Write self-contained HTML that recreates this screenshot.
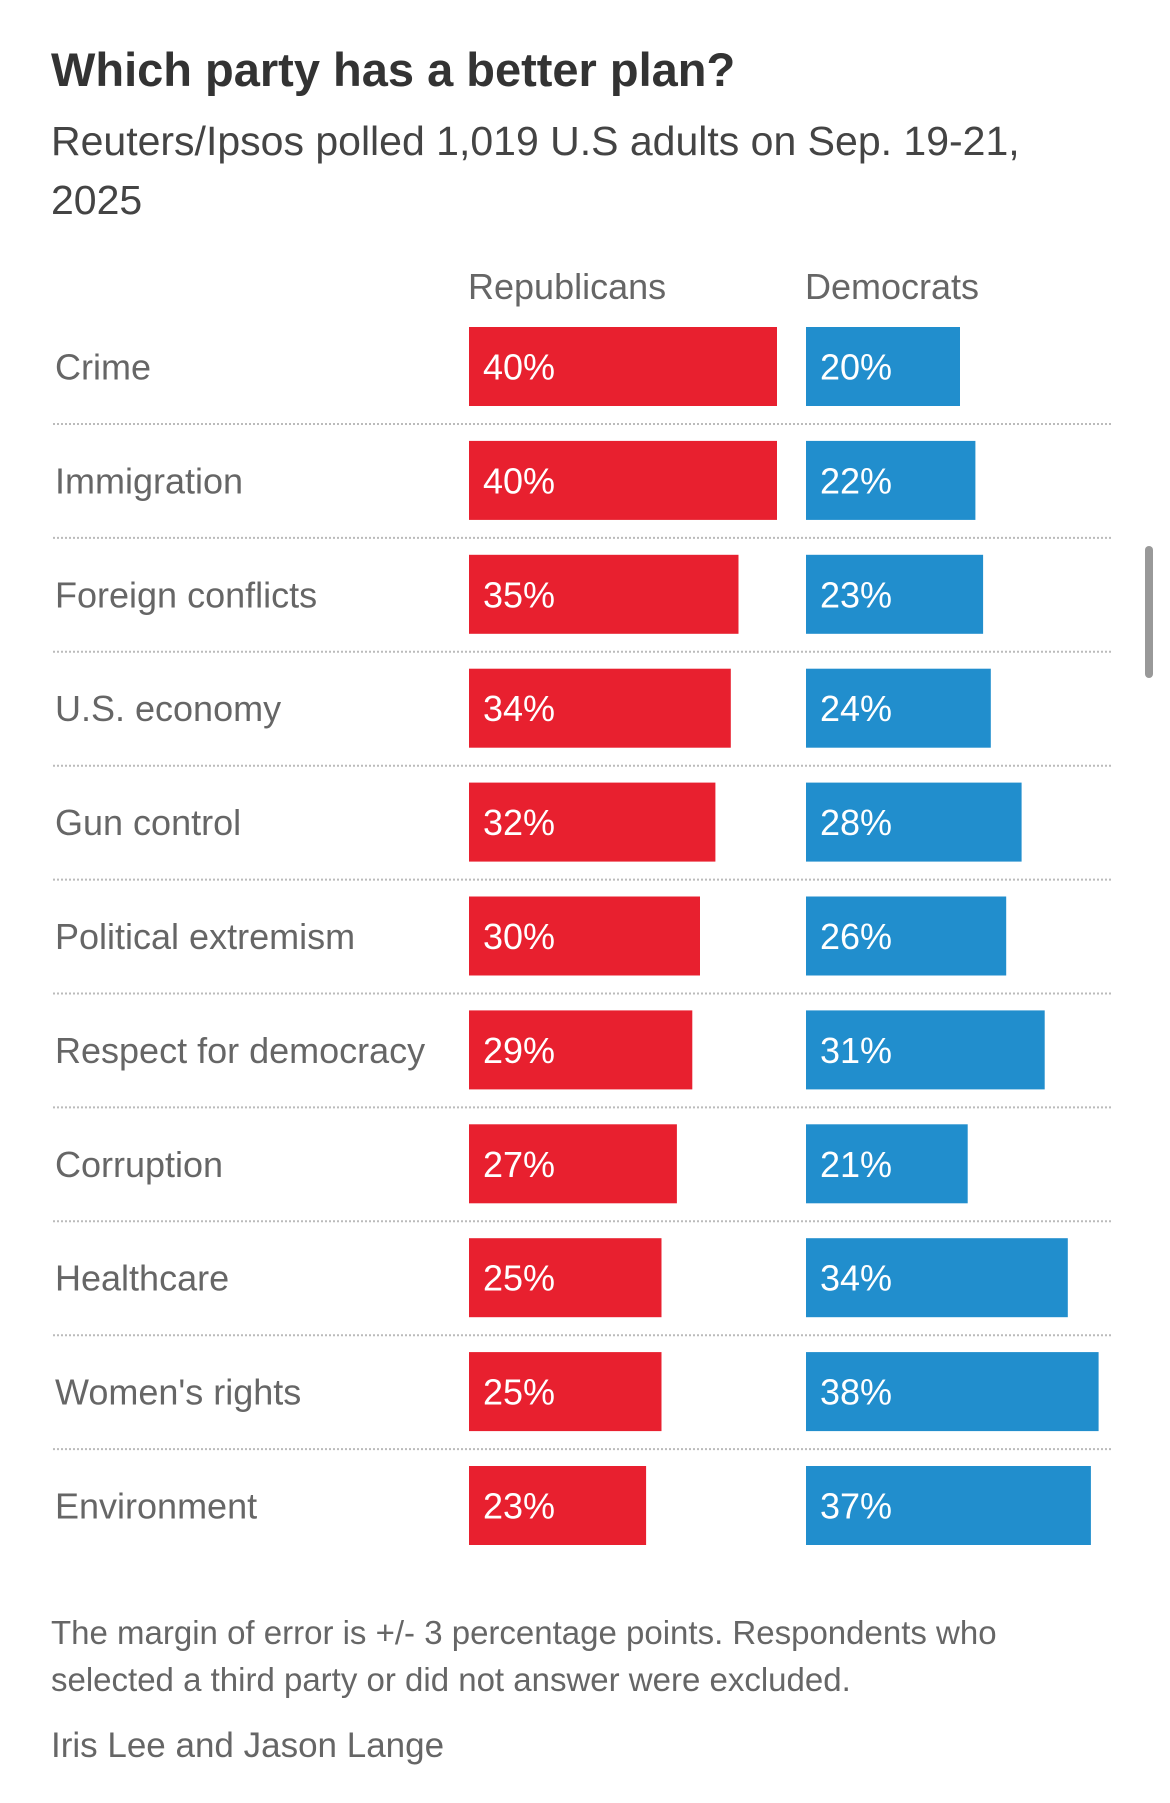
<!DOCTYPE html>
<html><head><meta charset="utf-8"><style>
body{margin:0;width:1170px;height:1803px;background:#fff;font-family:"Liberation Sans",sans-serif;position:relative;overflow:hidden;color:#555}
.t{position:absolute;white-space:nowrap}
</style></head><body>
<div class="t" style="left:51px;top:42px;font-size:47px;font-weight:bold;color:#333">Which party has a better plan?</div>
<div class="t" style="left:51px;top:112px;font-size:41px;line-height:59px;color:#444">Reuters/Ipsos polled 1,019 U.S adults on Sep. 19-21,<br>2025</div>
<div class="t" style="left:468px;top:266px;font-size:36px;color:#666">Republicans</div>
<div class="t" style="left:805px;top:266px;font-size:36px;color:#666">Democrats</div>
<svg id="chart" width="1170" height="1600" style="position:absolute;left:0;top:0"></svg>
<div class="t" style="left:51px;top:1609px;font-size:33px;line-height:47px;color:#666">The margin of error is +/- 3 percentage points. Respondents who<br>selected a third party or did not answer were excluded.</div>
<div class="t" style="left:51px;top:1726px;font-size:35px;color:#666">Iris Lee and Jason Lange</div>
<div style="position:absolute;left:1145px;top:546px;width:8px;height:132px;border-radius:4px;background:#999"></div>
<script>
const categories=["Crime","Immigration","Foreign conflicts","U.S. economy","Gun control","Political extremism","Respect for democracy","Corruption","Healthcare","Women's rights","Environment"];
const repValues=[40,40,35,34,32,30,29,27,25,25,23];
const demValues=[20,22,23,24,28,26,31,21,34,38,37];
const svg=document.getElementById('chart');
const NS='http://www.w3.org/2000/svg';
const pxPer=7.7, repX=469, demX=806, top0=327, pitch=113.9, barH=79;
function xLen(v){return v*pxPer;}
function yRow(i){return top0+i*pitch;}
function mk(tag,attrs){const e=document.createElementNS(NS,tag);for(const k in attrs)e.setAttribute(k,attrs[k]);svg.appendChild(e);return e;}
categories.forEach((c,i)=>{
  const y=yRow(i);
  const lab=mk('text',{x:55,y:y+barH/2+13,'font-size':36,fill:'#666'});
  
  
  lab.textContent=c;
  const r=mk('rect',{x:repX,y:y,width:xLen(repValues[i]),height:barH,fill:'#e8202f'});
  
  
  const rt=mk('text',{x:repX+14,y:y+barH/2+13,'font-size':36,fill:'#fff'});
  
  
  rt.textContent=repValues[i]+'%';
  const d=mk('rect',{x:demX,y:y,width:xLen(demValues[i]),height:barH,fill:'#218ecd'});
  
  
  const dt=mk('text',{x:demX+14,y:y+barH/2+13,'font-size':36,fill:'#fff'});
  
  
  dt.textContent=demValues[i]+'%';
  if(i<categories.length-1){
    const l=mk('line',{x1:53,x2:1112,y1:y+97,y2:y+97,stroke:'#bbb','stroke-width':2,'stroke-dasharray':'2,2'});
    
    
  }
});
</script>
</body></html>
